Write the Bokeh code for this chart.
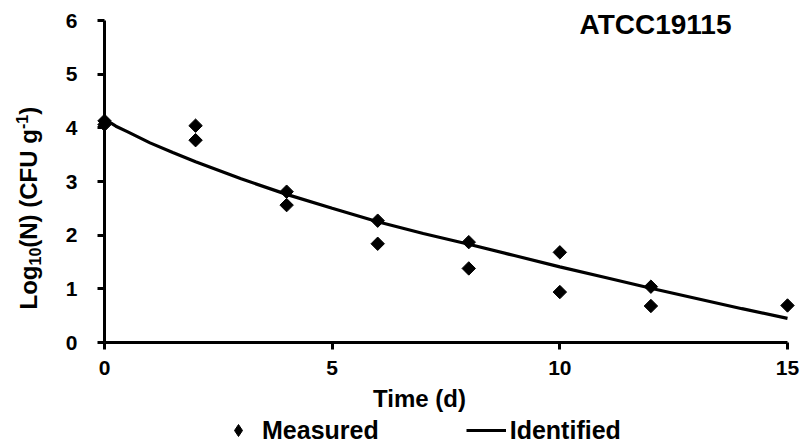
import numpy as np
from bokeh.plotting import figure
from bokeh.models import Label, Legend, LegendItem, Range1d, FixedTicker
from bokeh.embed import file_html
from bokeh.resources import INLINE

# ---- data ----
time_measured = [0, 0, 2, 2, 4, 4, 6, 6, 8, 8, 10, 10, 12, 12, 15]
log_measured = [4.13, 4.06, 4.04, 3.77, 2.81, 2.56, 2.27, 1.84, 1.87, 1.38,
                1.68, 0.94, 1.04, 0.68, 0.69]

time_fit = [0, 0.1, 0.25, 0.5, 1, 1.5, 2, 3, 4, 5, 6, 7, 8, 9, 10, 11, 12, 13, 14, 15]
log_fit = [4.20, 4.11, 4.03, 3.93, 3.72, 3.54, 3.37, 3.05, 2.76, 2.50, 2.25,
           2.03, 1.83, 1.62, 1.41, 1.21, 1.01, 0.82, 0.63, 0.45]

x_ticks = [0, 5, 10, 15]
y_ticks = [0, 1, 2, 3, 4, 5, 6]

title_text = "ATCC19115"
x_label = "Time (d)"
legend_labels = ["Measured", "Identified"]

FONT = "Liberation Sans"
W, H = 805, 445
# pixel placement of the data area (0..15 x 0..6)
PX0, PX1, PY0, PY1 = 104, 787, 342, 20
sx = (PX1 - PX0) / 15.0
sy = (PY0 - PY1) / 6.0

def dx(px):
    return (px - PX0) / sx

def dy(py):
    return (PY0 - py) / sy

p = figure(width=W, height=H,
           min_border_left=0, min_border_right=0,
           min_border_top=0, min_border_bottom=0,
           x_range=Range1d(dx(0), dx(W)),
           y_range=Range1d(dy(H), dy(0)),
           output_backend="svg", toolbar_location=None)
p.outline_line_color = None
p.background_fill_color = "white"
p.border_fill_color = "white"
p.grid.visible = False

for ax in (p.xaxis[0], p.yaxis[0]):
    ax.axis_line_width = 3
    ax.axis_line_color = "black"
    ax.major_tick_line_width = 3
    ax.major_tick_line_color = "black"
    ax.major_tick_out = 7
    ax.major_tick_in = 0
    ax.minor_tick_line_color = None
    ax.major_label_text_font = FONT
    ax.major_label_text_font_style = "bold"
    ax.major_label_text_font_size = "21px"
    ax.major_label_text_color = "black"

p.xaxis.ticker = FixedTicker(ticks=x_ticks)
p.yaxis.ticker = FixedTicker(ticks=y_ticks)
p.xaxis.bounds = (0, 15)
p.yaxis.bounds = (0, 6)
p.xaxis.fixed_location = 0
p.yaxis.fixed_location = 0
p.xaxis.major_label_standoff = 11
p.yaxis.major_label_standoff = 20

line = p.line(time_fit, log_fit, line_color="black", line_width=3.2)
pts = p.scatter(time_measured, log_measured, marker="square", angle=np.pi / 4,
                size=9.5, fill_color="black", line_color="black")
# legend key (diamond) – a renderer with no visible point, only used by the legend
key = p.scatter(x=[np.nan], y=[np.nan], marker="diamond",
                fill_color="black", line_color="black")

# title inside plot
p.add_layout(Label(x=dx(655), y=dy(24), text=title_text, text_align="center",
                   text_baseline="middle", text_font=FONT, text_color="black",
                   text_font_style="bold", text_font_size="28px"))

# x axis title
p.add_layout(Label(x=dx(419), y=dy(398), text=x_label,
                   text_align="center", text_baseline="middle", text_color="black",
                   text_font=FONT, text_font_style="bold", text_font_size="24px"))

# y axis title with subscript / superscript, rotated
def ylab(text, ypix, xpix, size):
    p.add_layout(Label(x=dx(xpix), y=dy(ypix), text=text,
                       angle=np.pi / 2, text_align="left", text_color="black",
                       text_baseline="middle", text_font=FONT,
                       text_font_style="bold", text_font_size=size))

main_px, small_px = 24, 16
base_x = 28
y0 = 309
seg = [("Log", 0, main_px), ("10", 6, small_px), ("(N) (CFU g", 0, main_px),
       ("-1", -7, small_px), (")", 0, main_px)]
widths = {"Log": 1833, "10": 1112, "(N) (CFU g": 4943, "-1": 889, ")": 333}
ycur = y0
for txt, off, sz in seg:
    ylab(txt, ycur, base_x + off, f"{sz}px")
    ycur -= widths[txt] / 1000.0 * sz

legend = Legend(items=[LegendItem(label=legend_labels[0], renderers=[key]),
                       LegendItem(label=legend_labels[1], renderers=[line])],
                orientation="horizontal", location=(218, 0))
legend.label_text_font = FONT
legend.label_text_font_style = "bold"
legend.label_text_font_size = "25px"
legend.label_text_color = "black"
legend.glyph_width = 40
legend.glyph_height = 30
legend.label_standoff = 4
legend.spacing = 87
legend.padding = 0
legend.margin = 0
legend.border_line_color = None
legend.background_fill_alpha = 0
p.add_layout(legend)

html = file_html(p, INLINE)
open("out.html", "w").write(html)
